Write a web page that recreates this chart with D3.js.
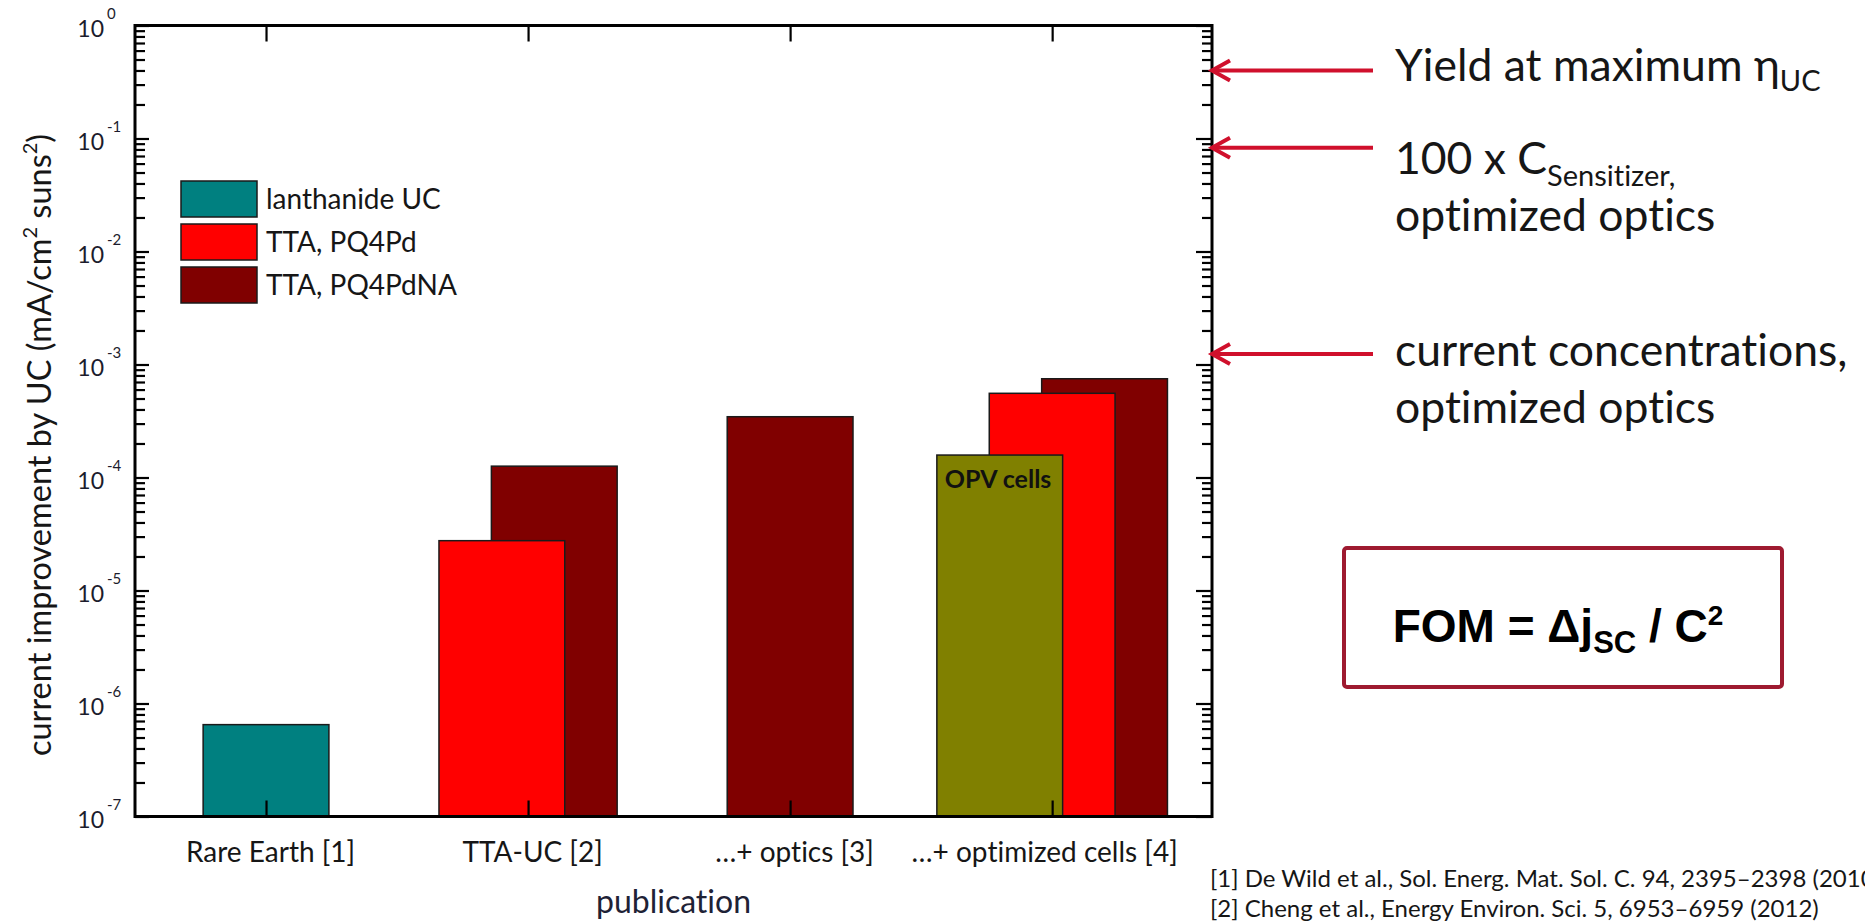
<!DOCTYPE html>
<html lang="en">
<head>
<meta charset="utf-8">
<title>Current improvement by UC</title>
<script src="https://cdn.jsdelivr.net/npm/d3@7"></script>
<style>
  body { margin: 0; background: #fff; }
  svg { display: block; font-family: Lato, "Open Sans", sans-serif; fill: #161616; font-variant-ligatures: none; }
</style>
</head>
<body>
<script>
// x categories
var categories = ["Rare Earth [1]", "TTA-UC [2]", "…+ optics [3]", "…+ optimized cells [4]"];

// one value per category, null = no bar there
var lanthanide = [6.5e-7, null, null, null];
var opvCells   = [null, null, null, 1.58e-4];
var pq4pd      = [null, 2.76e-5, null, 5.56e-4];
var pq4pdna    = [null, 1.26e-4, 3.45e-4, 7.48e-4];

var seriesNames  = ["lanthanide UC", "OPV cells", "TTA, PQ4Pd", "TTA, PQ4PdNA"];
var seriesValues = [lanthanide, opvCells, pq4pd, pq4pdna];
var seriesColors = ["#008080", "#808000", "#ff0000", "#800000"];
var legendSeries = [0, 2, 3];

// decade ticks on the y axis
var yExponents = [0, -1, -2, -3, -4, -5, -6, -7];

// levels the red arrows point at
var arrowValues = [0.40, 0.083, 1.24e-3];

var references = [
    "[1] De Wild et al., Sol. Energ. Mat. Sol. C. 94, 2395–2398 (2010)",
    "[2] Cheng et al., Energy Environ. Sci. 5, 6953–6959 (2012)"
];

var w = 1865, h = 924;
// plot box (note: "top" is taken by window.top)
var pLeft = 135, pRight = 1212, pTop = 25.5, pBottom = 816.5;

var svg = d3.select("body").append("svg")
    .attr("width", w)
    .attr("height", h);

var x = d3.scaleLinear().domain([0.5, 4.61]).range([pLeft, pRight]);
var y = d3.scaleLog().domain([1e-7, 1]).range([pBottom, pTop]);

var barW = x(1.48) - x(1);
var step = 0.2;

// bars: per category, offset the present series, draw back to front
categories.forEach(function(c, i) {
    var present = [];
    seriesValues.forEach(function(vals, j) {
        if (vals[i] != null) present.push(j);
    });
    var n = present.length;
    var bars = present.map(function(j, k) {
        return { s: j, v: seriesValues[j][i], pos: i + 1 + (k - (n - 1) / 2) * step };
    }).reverse();

    svg.append("g").selectAll("rect")
        .data(bars)
        .enter()
        .append("rect")
        .attr("x", function(d) { return x(d.pos) - barW / 2; })
        .attr("y", function(d) { return y(d.v); })
        .attr("width", barW)
        .attr("height", function(d) { return pBottom - y(d.v); })
        .attr("fill", function(d) { return seriesColors[d.s]; })
        .attr("stroke", "#1a1a1a")
        .attr("stroke-width", 1.5);

    bars.forEach(function(d) {
        if (d.s === 1) {
            svg.append("text")
                .attr("x", x(d.pos) - barW / 2 + 8)
                .attr("y", y(d.v) + 33)
                .attr("font-size", "25px")
                .attr("font-weight", "bold")
                .attr("fill", "#111")
                .text("OPV cells");
        }
    });
});

// minor tick values 2..9 x 10^k
var minors = [];
for (var k = -7; k < 0; k++) {
    for (var m = 2; m <= 9; m++) minors.push(m * Math.pow(10, k));
}
var majors = yExponents.map(function(e) { return Math.pow(10, e); });

function tickGroup(axis, tx, ty) {
    var g = svg.append("g")
        .attr("transform", "translate(" + tx + "," + ty + ")")
        .call(axis);
    g.select(".domain").remove();
    g.selectAll("line").attr("stroke", "#000").attr("stroke-width", 2.2);
    return g;
}

tickGroup(d3.axisLeft(y).tickValues(majors).tickSize(-14).tickFormat(""), pLeft, 0);
tickGroup(d3.axisLeft(y).tickValues(minors).tickSize(-10).tickFormat(""), pLeft, 0);
tickGroup(d3.axisRight(y).tickValues(majors).tickSize(-16).tickFormat(""), pRight, 0);
tickGroup(d3.axisRight(y).tickValues(minors).tickSize(-10).tickFormat(""), pRight, 0);
tickGroup(d3.axisTop(x).tickValues([1, 2, 3, 4]).tickSize(-16).tickFormat(""), 0, pTop);

var xb = tickGroup(d3.axisBottom(x).tickValues([1, 2, 3, 4]).tickSize(-16)
    .tickFormat(function(d) { return categories[d - 1]; }), 0, pBottom);
xb.attr("font-family", null).attr("font-size", null);
xb.selectAll("text")
    .attr("y", 45.5)
    .attr("dy", null)
    .attr("dx", function(d) { return d === 4 ? -8 : 4; })
    .attr("font-size", "28px")
    .attr("fill", "#161616");

// frame
svg.append("rect")
    .attr("x", pLeft).attr("y", pTop)
    .attr("width", pRight - pLeft).attr("height", pBottom - pTop)
    .attr("fill", "none")
    .attr("stroke", "#000")
    .attr("stroke-width", 3);

// y tick labels 10^n
var yl = svg.append("g").selectAll("g")
    .data(yExponents)
    .enter()
    .append("g")
    .attr("fill", "#1c1c2c");
yl.append("text")
    .attr("x", 104)
    .attr("y", function(d) { return y(Math.pow(10, d)) + 11; })
    .attr("text-anchor", "end")
    .attr("font-size", "23px")
    .text("10");
yl.append("text")
    .attr("x", 107)
    .attr("y", function(d) { return y(Math.pow(10, d)) - 7; })
    .attr("font-size", "15px")
    .text(function(d) { return d === 0 ? "0" : "-" + Math.abs(d); });

// axis titles
var yt = svg.append("text")
    .attr("transform", "translate(51,445) rotate(-90)")
    .attr("text-anchor", "middle")
    .attr("font-size", "32.5px");
yt.append("tspan").text("current improvement by UC (mA/cm");
yt.append("tspan").attr("dy", -14).attr("font-size", "20px").text("2");
yt.append("tspan").attr("dy", 14).text(" suns");
yt.append("tspan").attr("dy", -14).attr("font-size", "20px").text("2");
yt.append("tspan").attr("dy", 14).text(")");

svg.append("text")
    .attr("x", (pLeft + pRight) / 2)
    .attr("y", 913)
    .attr("text-anchor", "middle")
    .attr("font-size", "32px")
    .attr("fill", "#1e2236")
    .text("publication");

// legend
var lg = svg.append("g").selectAll("g")
    .data(legendSeries)
    .enter()
    .append("g")
    .attr("transform", function(d, i) { return "translate(181," + (181 + i * 43) + ")"; });
lg.append("rect")
    .attr("width", 76).attr("height", 36)
    .attr("fill", function(d) { return seriesColors[d]; })
    .attr("stroke", "#1a1a1a")
    .attr("stroke-width", 1.5);
lg.append("text")
    .attr("x", 85)
    .attr("y", 28)
    .attr("font-size", "28px")
    .text(function(d) { return seriesNames[d]; });

// red arrows to the right axis
var arrowColor = "#d0102c";
var ar = svg.append("g").selectAll("g")
    .data(arrowValues)
    .enter()
    .append("g")
    .attr("transform", function(d) { return "translate(" + (pRight - 1) + "," + y(d) + ")"; });
ar.append("line")
    .attr("x1", 1).attr("x2", 162)
    .attr("stroke", arrowColor).attr("stroke-width", 4);
ar.append("path")
    .attr("d", "M19,-10L1,0L19,10")
    .attr("fill", "none")
    .attr("stroke", arrowColor).attr("stroke-width", 4);

// annotation texts
var ax = 1395, fs = "44.5px";
var t1 = svg.append("text").attr("x", ax).attr("y", 81).attr("font-size", fs);
t1.append("tspan").text("Yield at maximum η");
t1.append("tspan").attr("dy", 10).attr("font-size", "29px").text("UC");

var t2 = svg.append("text").attr("x", ax).attr("y", 174).attr("font-size", fs);
t2.append("tspan").text("100 x C");
t2.append("tspan").attr("dy", 12).attr("font-size", "29px").text("Sensitizer,");
svg.append("text").attr("x", ax).attr("y", 231).attr("font-size", fs).text("optimized optics");

svg.append("text").attr("x", ax).attr("y", 366).attr("font-size", fs).text("current concentrations,");
svg.append("text").attr("x", ax).attr("y", 423).attr("font-size", fs).text("optimized optics");

// FOM box
svg.append("rect")
    .attr("x", 1344).attr("y", 548)
    .attr("width", 438).attr("height", 139)
    .attr("rx", 3)
    .attr("fill", "none")
    .attr("stroke", "#9e1a30")
    .attr("stroke-width", 4);
var fom = svg.append("text")
    .attr("x", 1558).attr("y", 642)
    .attr("text-anchor", "middle")
    .attr("font-family", "'Liberation Sans', Arial, sans-serif")
    .attr("font-weight", "bold")
    .attr("font-size", "46px")
    .attr("fill", "#000");
fom.append("tspan").text("FOM = Δj");
fom.append("tspan").attr("dy", 11).attr("font-size", "31px").text("SC");
fom.append("tspan").attr("dy", -11).text(" / C");
fom.append("tspan").attr("dy", -17).attr("font-size", "28px").text("2");

// references
svg.append("g").selectAll("text")
    .data(references)
    .enter()
    .append("text")
    .attr("x", 1210)
    .attr("y", function(d, i) { return 887 + i * 30; })
    .attr("font-size", "24px")
    .text(function(d) { return d; });
</script>
</body>
</html>
